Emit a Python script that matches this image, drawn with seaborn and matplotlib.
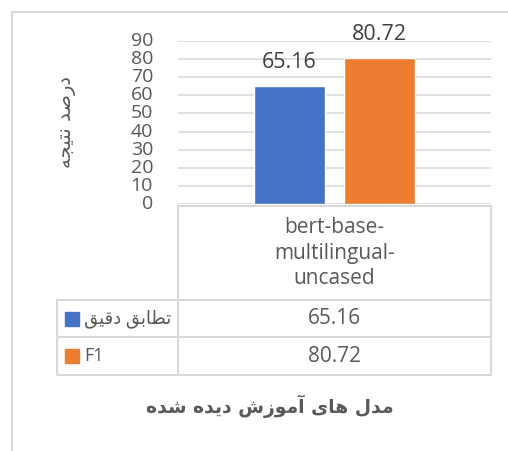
import matplotlib
matplotlib.use('Agg')
import matplotlib.pyplot as plt
import seaborn as sns
import pandas as pd
from matplotlib.lines import Line2D
from matplotlib.patches import Rectangle

# ---------------- data ----------------
categories = ['bert-base-multilingual-uncased']
category_label = 'bert-base-\nmultilingual-\nuncased'
series_names = ['تطابق دقیق', 'F1']
series_values = [65.16, 80.72]
series_colors = ['#4472C4', '#ED7D31']
y_ticks = [0, 10, 20, 30, 40, 50, 60, 70, 80, 90]
y_title = 'درصد نتیجه'
x_title = 'مدل های آموزش دیده شده'

# -------- minimal Persian shaping (matplotlib has no complex text layout) --------
FORMS = {
    'ا': ('\uFE8D', '\uFE8E', None, None),
    'آ': ('\uFE81', '\uFE82', None, None),
    'ب': ('\uFE8F', '\uFE90', '\uFE91', '\uFE92'),
    'ت': ('\uFE95', '\uFE96', '\uFE97', '\uFE98'),
    'ج': ('\uFE9D', '\uFE9E', '\uFE9F', '\uFEA0'),
    'د': ('\uFEA9', '\uFEAA', None, None),
    'ر': ('\uFEAD', '\uFEAE', None, None),
    'ز': ('\uFEAF', '\uFEB0', None, None),
    'ش': ('\uFEB5', '\uFEB6', '\uFEB7', '\uFEB8'),
    'ص': ('\uFEB9', '\uFEBA', '\uFEBB', '\uFEBC'),
    'ط': ('\uFEC1', '\uFEC2', '\uFEC3', '\uFEC4'),
    'ق': ('\uFED5', '\uFED6', '\uFED7', '\uFED8'),
    'ل': ('\uFEDD', '\uFEDE', '\uFEDF', '\uFEE0'),
    'م': ('\uFEE1', '\uFEE2', '\uFEE3', '\uFEE4'),
    'ن': ('\uFEE5', '\uFEE6', '\uFEE7', '\uFEE8'),
    'ه': ('\uFEE9', '\uFEEA', '\uFEEB', '\uFEEC'),
    'و': ('\uFEED', '\uFEEE', None, None),
    'ی': ('\uFEEF', '\uFEF0', '\uFEF3', '\uFEF4'),
}


def shape_fa(s):
    if not any(c in FORMS for c in s):
        return s
    out = []
    for i, c in enumerate(s):
        if c not in FORMS:
            out.append(c)
            continue
        prev = s[i - 1] if i > 0 else None
        nxt = s[i + 1] if i + 1 < len(s) else None
        jp = prev in FORMS and FORMS[prev][2] is not None
        jn = nxt in FORMS and FORMS[c][2] is not None
        iso, fin, ini, med = FORMS[c]
        if jp and jn:
            out.append(med)
        elif jp:
            out.append(fin)
        elif jn:
            out.append(ini)
        else:
            out.append(iso)
    return ''.join(reversed(out))


# ---------------- style ----------------
sns.set_style('white')
plt.rcParams['font.family'] = ['Open Sans', 'DejaVu Sans']
TXT = '#595959'
GRID = '#D9D9D9'

W, H = 508, 451
fig = plt.figure(figsize=(W / 100, H / 100), dpi=100)


def fx(x):
    return x / W


def fy(y):
    return 1 - y / H


ax = fig.add_axes([fx(178), fy(204), (491 - 178) / W, (204 - 41) / H])

df = pd.DataFrame({
    'model': categories * len(series_names),
    'series': series_names,
    'value': series_values,
})
sns.barplot(data=df, x='model', y='value', hue='series',
            hue_order=series_names, palette=series_colors,
            width=0.575, gap=0.21, saturation=1, legend=False, ax=ax)

ax.set_ylim(0, 90)
ax.set_yticks(y_ticks)
ax.set_yticklabels([str(t) for t in y_ticks])
ax.yaxis.grid(True, color=GRID, lw=1.1)
ax.set_axisbelow(True)
for sp in ax.spines.values():
    sp.set_visible(False)
ax.set_xticks([])
ax.set_xlabel('')
ax.set_ylabel('')
ax.tick_params(axis='y', length=0, pad=18, labelsize=14, labelcolor=TXT)
for lab in ax.get_yticklabels():
    lab.set_verticalalignment('center')

for cont in ax.containers:
    ax.bar_label(cont, fmt='%.2f', padding=9, fontsize=15.5, color='#404040')

# ---------------- chart frame ----------------
fig.add_artist(Line2D([fx(12), fx(12)], [fy(12), fy(451)], transform=fig.transFigure, color=GRID, lw=1.5))
fig.add_artist(Line2D([fx(12), fx(508)], [fy(12), fy(12)], transform=fig.transFigure, color=GRID, lw=1.5))

# ---------------- data table ----------------
segs = [
    ((178, 206), (491, 206)),
    ((178, 206), (178, 375)),
    ((491, 206), (491, 375)),
    ((57, 300), (491, 300)),
    ((57, 337), (491, 337)),
    ((57, 375), (491, 375)),
    ((57, 300), (57, 375)),
]
for (x0, y0), (x1, y1) in segs:
    fig.add_artist(Line2D([fx(x0), fx(x1)], [fy(y0), fy(y1)],
                          transform=fig.transFigure, color=GRID, lw=1.5))

fig.text(fx(334.5), fy(253), category_label, ha='center', va='center',
         fontsize=15, color=TXT, linespacing=1.3)

row_y = [319, 356]
for name, val, col, ry in zip(series_names, series_values, series_colors, row_y):
    fig.add_artist(Rectangle((fx(65), fy(ry + 7)), 14 / W, 14 / H,
                             transform=fig.transFigure, color=col))
    fig.text(fx(84), fy(ry), shape_fa(name), ha='left', va='center',
             fontsize=13, color=TXT, family=['Open Sans', 'DejaVu Sans'])
    fig.text(fx(334.5), fy(ry), f'{val:.2f}', ha='center', va='center',
             fontsize=15, color=TXT)

# ---------------- axis titles ----------------
fig.text(fx(270), fy(406), shape_fa(x_title), ha='center', va='center',
         fontsize=13.5, fontweight='bold', color=TXT, family=['DejaVu Sans'])
fig.text(fx(67), fy(122), shape_fa(y_title), ha='center', va='center',
         rotation=90, fontsize=14, color=TXT, family=['DejaVu Sans'])

fig.savefig('out.png', dpi=100)
